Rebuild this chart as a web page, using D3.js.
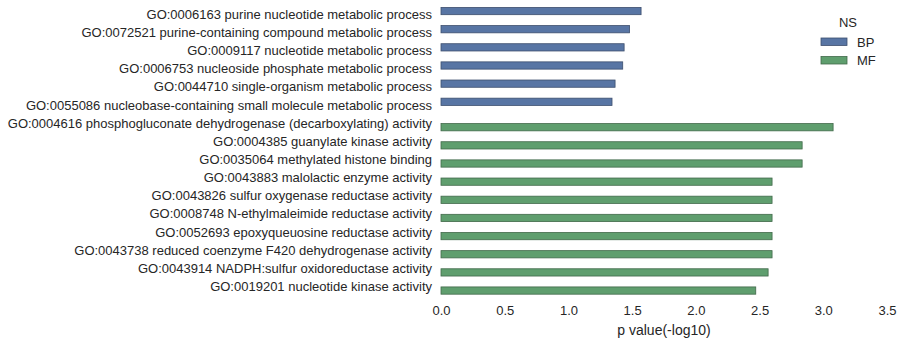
<!DOCTYPE html>
<html>
<head>
<meta charset="utf-8">
<script src="https://cdn.jsdelivr.net/npm/d3@7"></script>
<style>
  body { margin: 0; background: #fff; }
  text { font-family: "Liberation Sans", Arial, sans-serif; fill: #262626; }
</style>
</head>
<body>
<div id="chart"></div>
<script>
const terms = [
  "GO:0006163 purine nucleotide metabolic process",
  "GO:0072521 purine-containing compound metabolic process",
  "GO:0009117 nucleotide metabolic process",
  "GO:0006753 nucleoside phosphate metabolic process",
  "GO:0044710 single-organism metabolic process",
  "GO:0055086 nucleobase-containing small molecule metabolic process",
  "GO:0004616 phosphogluconate dehydrogenase (decarboxylating) activity",
  "GO:0004385 guanylate kinase activity",
  "GO:0035064 methylated histone binding",
  "GO:0043883 malolactic enzyme activity",
  "GO:0043826 sulfur oxygenase reductase activity",
  "GO:0008748 N-ethylmaleimide reductase activity",
  "GO:0052693 epoxyqueuosine reductase activity",
  "GO:0043738 reduced coenzyme F420 dehydrogenase activity",
  "GO:0043914 NADPH:sulfur oxidoreductase activity",
  "GO:0019201 nucleotide kinase activity"
];
const ns = ["BP","BP","BP","BP","BP","BP","MF","MF","MF","MF","MF","MF","MF","MF","MF","MF"];
const pvals = [1.57, 1.48, 1.437, 1.426, 1.366, 1.342, 3.077, 2.834, 2.834, 2.598, 2.598, 2.598, 2.598, 2.598, 2.567, 2.47];
const groups = ["BP", "MF"];
const xTicks = [0, 0.5, 1, 1.5, 2, 2.5, 3, 3.5];

const width = 904, height = 345;
const margin = { top: 5.6, right: 17, bottom: 49, left: 441 };

const svg = d3.select("#chart").append("svg").attr("width", width).attr("height", height);

const x = d3.scaleLinear().domain([0, 3.5]).range([margin.left, width - margin.right]);
const y = d3.scaleBand().domain(terms).range([margin.top, height - margin.bottom]);
const sub = d3.scaleBand().domain(groups).range([y.bandwidth() * 0.1, y.bandwidth() * 0.9]);
const color = d3.scaleOrdinal().domain(groups).range(["#5875a4", "#5f9e6e"]);
const edge = d3.scaleOrdinal().domain(groups).range(["#3d4f6e", "#41694a"]);

const rows = terms.map((t, i) => ({ term: t, ns: ns[i], p: pvals[i] }));

svg.append("g").selectAll("rect").data(rows).enter().append("rect")
  .attr("x", x(0))
  .attr("y", d => y(d.term) + sub(d.ns))
  .attr("width", d => x(d.p) - x(0))
  .attr("height", sub.bandwidth())
  .attr("fill", d => color(d.ns))
  .attr("stroke", d => edge(d.ns))
  .attr("stroke-width", 0.8);

// category labels
const yAxis = svg.append("g").attr("transform", `translate(${margin.left},0)`)
  .call(d3.axisLeft(y).tickSize(0).tickPadding(9));
yAxis.select(".domain").remove();
yAxis.selectAll("text").style("font-size", "13px").attr("fill", "#262626");

// x axis
const xAxis = svg.append("g").attr("transform", `translate(0,${height - margin.bottom})`)
  .call(d3.axisBottom(x).tickValues(xTicks).tickFormat(d3.format(".1f")).tickSize(0).tickPadding(10));
xAxis.select(".domain").remove();
xAxis.selectAll("text").style("font-size", "13px").attr("fill", "#262626");

svg.append("text")
  .attr("x", (x(0) + x(3.5)) / 2)
  .attr("y", 335)
  .attr("text-anchor", "middle")
  .style("font-size", "14px")
  .text("p value(-log10)");

// legend
const legend = svg.append("g");
legend.append("text").attr("x", 848).attr("y", 27).attr("text-anchor", "middle")
  .style("font-size", "13px").text("NS");
groups.forEach((g, i) => {
  legend.append("rect").attr("x", 821).attr("y", 38 + i * 18.5).attr("width", 26).attr("height", 7.5)
    .attr("fill", color(g)).attr("stroke", edge(g)).attr("stroke-width", 0.8);
  legend.append("text").attr("x", 857).attr("y", 42 + i * 18.5).attr("dy", "0.35em")
    .style("font-size", "13px").text(g);
});
</script>
</body>
</html>
